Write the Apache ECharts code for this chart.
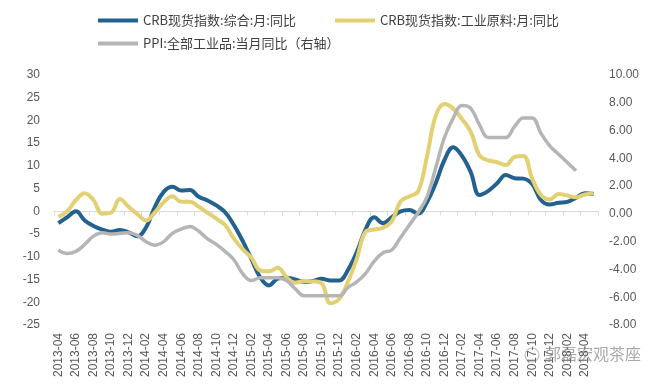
<!DOCTYPE html>
<html>
<head>
<meta charset="utf-8">
<script src="https://cdn.jsdelivr.net/npm/echarts@6/dist/echarts.min.js"></script>
<style>
html,body{margin:0;padding:0;background:#fff;}
#chart{width:661px;height:389px;}
</style>
</head>
<body>
<div id="chart"></div>
<script>
var categories = [
'2013-04','2013-05','2013-06','2013-07','2013-08','2013-09','2013-10','2013-11','2013-12',
'2014-01','2014-02','2014-03','2014-04','2014-05','2014-06','2014-07','2014-08','2014-09','2014-10','2014-11','2014-12',
'2015-01','2015-02','2015-03','2015-04','2015-05','2015-06','2015-07','2015-08','2015-09','2015-10','2015-11','2015-12',
'2016-01','2016-02','2016-03','2016-04','2016-05','2016-06','2016-07','2016-08','2016-09','2016-10','2016-11','2016-12',
'2017-01','2017-02','2017-03','2017-04','2017-05','2017-06','2017-07','2017-08','2017-09','2017-10','2017-11','2017-12',
'2018-01','2018-02','2018-03','2018-04','2018-05'
];
var crbComposite = [
-2.6,-1.3,0,-2,-3.2,-4,-4.5,-4.1,-4.6,
-5.5,-3.5,1.0,4.3,5.4,4.6,4.7,3.2,2.4,1.3,-0.2,-3,
-6.5,-10.5,-14.5,-16.3,-14.8,-14.6,-15,-15.5,-15.3,-14.8,-15.2,-15.2,
-12.9,-9,-4,-1.3,-2.6,-1.3,0,0.3,-0.5,2,6.2,11.3,
14.1,12.2,8.6,3.6,4.5,6.2,8,7.3,7.2,6,2.5,1.5,
1.9,2.1,3,4,3.8
];
var crbIndustrial = [
-1.2,0,2.5,4,2.5,-0.5,-0.3,2.7,1,
-0.6,-2,-0.2,2,3.3,2.1,2.1,1,-0.3,-1.6,-3,-6,
-8.3,-10.2,-13,-13.2,-12.4,-14.5,-15.7,-15.3,-15.4,-15.8,-20.2,-19.3,
-15.5,-10.5,-4.5,-4,-3.6,-2.2,2.2,3.3,4.4,12,21,23.6,
22.6,20.3,17.5,12.3,11.2,10.8,10.2,12,12.2,7.2,3.6,2.6,
3.8,3.5,3.1,3.7,4
];
var ppi = [
-2.6,-2.85,-2.7,-2.2,-1.6,-1.35,-1.45,-1.4,-1.35,
-1.55,-2.0,-2.25,-2.0,-1.4,-1.1,-0.9,-1.25,-1.8,-2.2,-2.7,-3.3,
-4.3,-4.8,-4.6,-4.6,-4.6,-4.8,-5.4,-5.9,-5.9,-5.9,-5.9,-5.9,
-5.3,-4.9,-4.3,-3.4,-2.8,-2.6,-1.7,-0.8,0.1,1.2,3.3,5.5,
6.9,7.8,7.6,6.4,5.5,5.5,5.5,6.3,6.9,6.9,5.8,4.9,
4.3,3.7,3.1
];
var seriesNames = ['CRB现货指数:综合:月:同比','CRB现货指数:工业原料:月:同比','PPI:全部工业品:当月同比（右轴）'];

var chart = echarts.init(document.getElementById('chart'), null, {renderer:'canvas'});
var labelColor = '#595959';
var legendText = {color:'#404040', fontSize:13, fontFamily:'"Noto Sans CJK SC", "Liberation Sans", sans-serif'};
var option = {
  backgroundColor:'#ffffff',
  animation:false,
  legend:[
    {data:[seriesNames[0]], left:98, top:14, itemWidth:40, itemHeight:4, icon:'rect', itemGap:0, textStyle:legendText, padding:0},
    {data:[seriesNames[1]], left:335, top:14, itemWidth:40, itemHeight:4, icon:'rect', itemGap:0, textStyle:legendText, padding:0},
    {data:[seriesNames[2]], left:98, top:37, itemWidth:40, itemHeight:4, icon:'rect', itemGap:0, textStyle:legendText, padding:0}
  ],
  grid:{left:54, right:63, top:75, bottom:64, containLabel:false},
  xAxis:[
    {type:'category', data:categories, boundaryGap:true, position:'bottom',
     axisLine:{show:false, onZero:false}, axisTick:{show:false},
     axisLabel:{interval:1, rotate:90, margin:8, color:labelColor, fontSize:12, fontFamily:'"Liberation Sans", Arial, sans-serif'}},
    {type:'category', data:categories, boundaryGap:true, position:'bottom',
     axisLine:{show:true, onZero:true, onZeroAxisIndex:0, lineStyle:{color:'#d9d9d9', width:1}},
     axisTick:{show:true, interval:1, length:4, lineStyle:{color:'#d9d9d9'}},
     axisLabel:{show:false}}
  ],
  yAxis:[
    {type:'value', min:-25, max:30, interval:5, position:'left',
     axisLine:{show:false}, axisTick:{show:false}, splitLine:{show:false},
     axisLabel:{margin:14, color:labelColor, fontSize:12, fontFamily:'"Liberation Sans", Arial, sans-serif'}},
    {type:'value', min:-8, max:10, interval:2, position:'right',
     axisLine:{show:false}, axisTick:{show:false}, splitLine:{show:false},
     axisLabel:{margin:11, color:labelColor, fontSize:12, fontFamily:'"Liberation Sans", Arial, sans-serif',
       formatter:function(v){return v.toFixed(2);}}}
  ],
  series:[
    {name:seriesNames[0], type:'line', data:crbComposite, xAxisIndex:0, yAxisIndex:0, smooth:0.4, symbol:'none',
     lineStyle:{color:'#23618f', width:4}, itemStyle:{color:'#23618f'}},
    {name:seriesNames[1], type:'line', data:crbIndustrial, xAxisIndex:0, yAxisIndex:0, smooth:0.4, symbol:'none',
     lineStyle:{color:'#e3d072', width:4}, itemStyle:{color:'#e3d072'}},
    {name:seriesNames[2], type:'line', data:ppi, xAxisIndex:0, yAxisIndex:1, smooth:0.4, symbol:'none',
     lineStyle:{color:'#b5b5b5', width:3.5}, itemStyle:{color:'#b5b5b5'}}
  ],
  graphic:[
    {type:'text', left:545, top:346, z:100,
     style:{text:'郭磊宏观茶座', fill:'rgba(140,140,140,0.75)', font:'16px "Noto Sans CJK SC", sans-serif'}},
    {type:'circle', shape:{cx:532, cy:355, r:7}, z:100,
     style:{fill:'none', stroke:'rgba(150,150,150,0.6)', lineWidth:1.2}}
  ]
};
chart.setOption(option);
</script>
</body>
</html>
